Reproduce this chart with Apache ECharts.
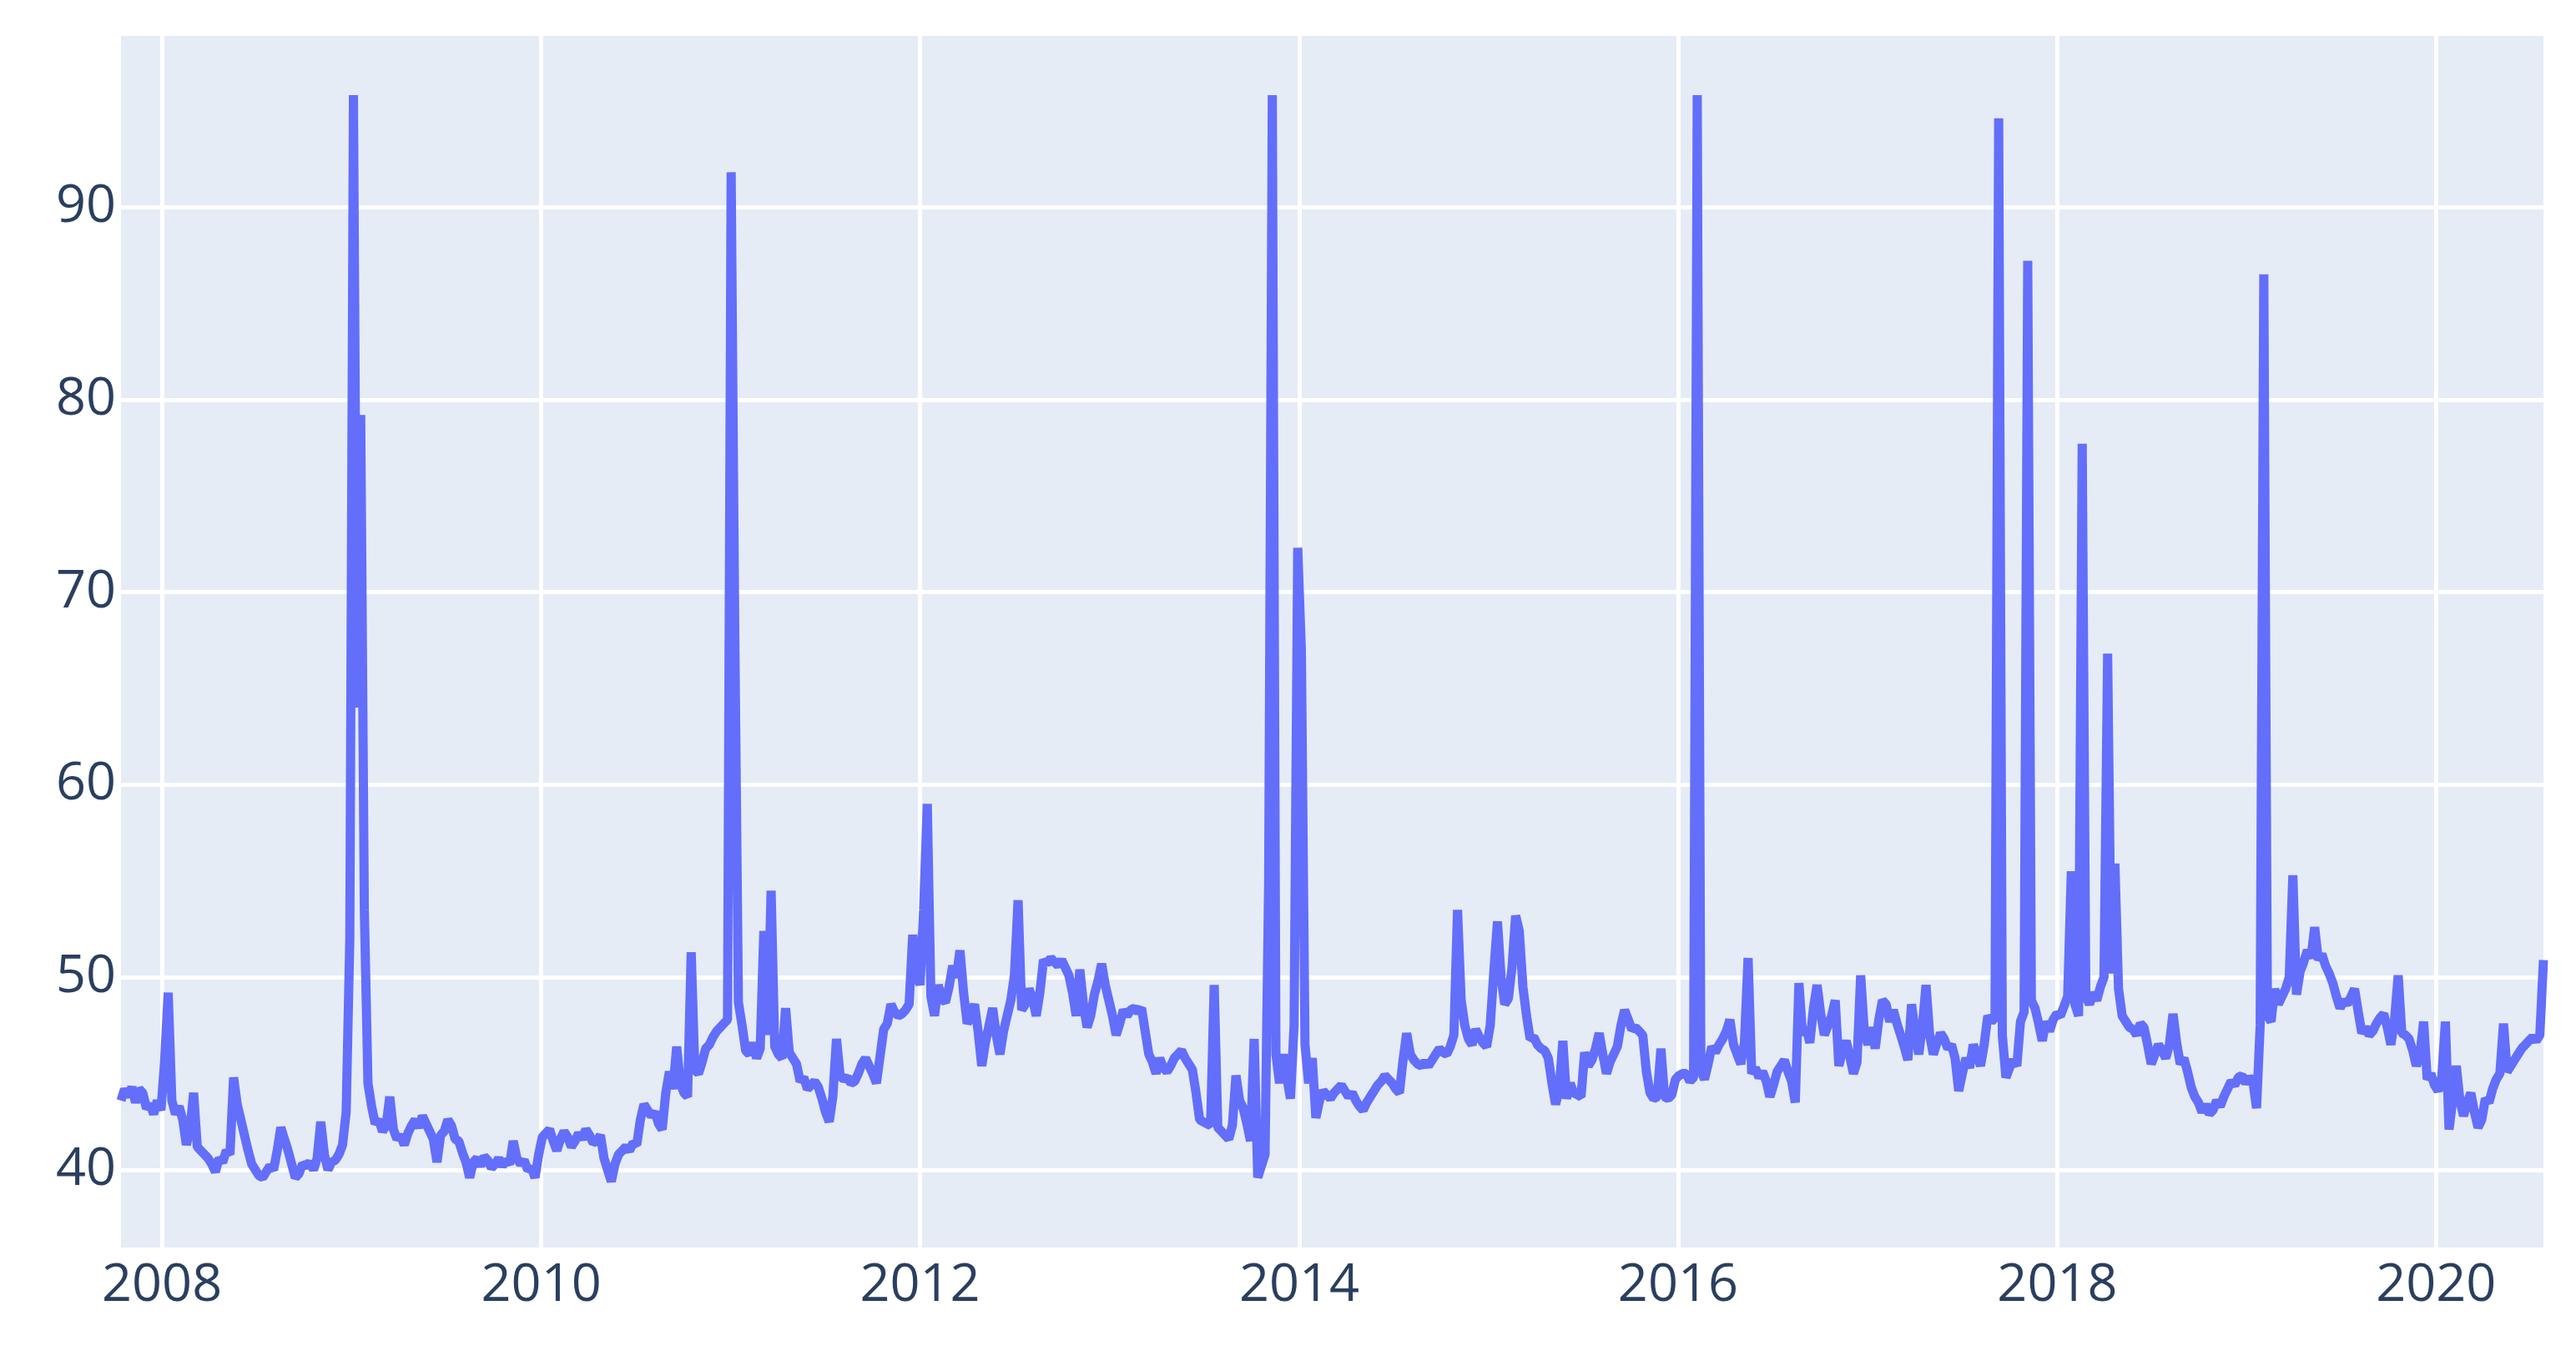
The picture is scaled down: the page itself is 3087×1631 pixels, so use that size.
<!DOCTYPE html>
<html>
<head>
<meta charset="utf-8">
<script src="https://cdn.jsdelivr.net/npm/echarts@6/dist/echarts.min.js"></script>
<style>
  html, body { margin: 0; padding: 0; background: #fff; }
  #chart { width: 3087px; height: 1631px; }
</style>
</head>
<body>
<div id="chart"></div>
<script>
// weekly values, first week is 2007-10-14
const startDate = Date.UTC(2007, 9, 14);

// Oct 2007 - Aug 2009
const part1 = [
  43.6, 44.2, 43.8, 44.3, 43.5, 44.2, 44.0, 43.2, 43.4, 42.9,
  43.6, 43.1, 45.6, 49.2, 43.6, 42.9, 43.3, 42.6, 41.3, 42.1,
  44.0, 41.2, 41.0, 40.8, 40.6, 40.3, 39.9, 40.6, 40.4, 41.0,
  40.8, 44.8, 43.4, 42.6, 41.8, 41.0, 40.3, 40.0, 39.7, 39.6,
  39.9, 40.2, 40.0, 41.0, 42.2, 41.6, 41.0, 40.3, 39.6, 39.8,
  40.3, 40.2, 40.4, 40.0, 40.6, 42.5, 40.8, 40.0, 40.4, 40.5,
  40.8, 41.3, 43.0, 52.0, 95.8, 64.0, 79.2, 53.5, 44.5, 43.3,
  42.4, 42.6, 42.0, 42.3, 43.8, 42.1, 41.6, 41.8, 41.3, 41.9,
  42.3, 42.6, 42.2, 42.8, 42.4, 42.0, 41.6, 40.4, 41.8, 42.0,
  42.6, 42.3, 41.6, 41.5, 40.9, 40.4
];
// Aug 2009 - Jun 2011
const part2 = [
  39.6, 40.4, 40.6, 40.2, 40.7, 40.5, 40.1, 40.3, 40.6, 40.2,
  40.5, 40.3, 41.5, 40.6, 40.3, 40.5, 40.0, 40.1, 39.6, 40.8,
  41.7, 41.9, 42.1, 41.5, 41.0, 41.6, 42.0, 41.7, 41.2, 41.5,
  41.9, 41.6, 42.1, 41.8, 41.4, 41.5, 41.8, 40.6, 40.0, 39.4,
  40.3, 40.8, 41.0, 41.2, 41.0, 41.4, 41.3, 42.6, 43.4, 43.1,
  42.8, 43.0, 42.4, 42.1, 44.0, 45.1, 44.2, 46.4, 44.5, 44.0,
  43.8, 51.3, 45.2, 45.0, 45.6, 46.3, 46.5, 46.9, 47.2, 47.4,
  47.6, 47.8, 91.8, 67.8, 48.7, 47.5, 46.2, 46.0, 46.6, 45.8,
  46.3, 52.4, 47.0, 54.5, 46.4, 46.0, 45.8, 48.4, 46.1, 45.8,
  45.5, 44.6, 44.8, 44.2, 44.4
];
// Jun 2011 - Mar 2013
const part3 = [
  44.6, 44.3, 43.7, 43.0, 42.5, 43.8, 46.8, 44.9, 44.7, 44.8,
  44.5, 44.6, 45.0, 45.5, 45.8, 45.4, 45.0, 44.5, 45.9, 47.3,
  47.6, 48.6, 48.2, 48.0, 48.1, 48.3, 48.6, 52.2, 50.3, 49.6,
  53.5, 59.0, 49.0, 48.0, 49.6, 48.9, 48.7, 49.5, 50.6, 50.0,
  51.4, 49.2, 47.6, 48.0, 48.6, 47.2, 45.4, 46.6, 47.5, 48.4,
  47.0, 46.0, 47.2, 48.0, 48.8, 50.1, 54.0, 48.3, 48.6, 49.4,
  48.9, 48.0, 49.2, 50.9, 50.7, 51.0, 50.8, 50.6, 50.9, 50.5,
  50.1, 49.2, 48.0, 50.4, 48.6, 47.4, 48.0, 49.1, 49.8, 50.7,
  49.6, 48.8, 48.0, 47.0, 47.6, 48.3, 48.0, 48.3, 48.4, 48.2,
  48.4, 47.2, 46.0, 45.6, 45.0
];
// Mar 2013 - Jan 2015
const part4 = [
  45.8, 45.3, 45.1, 45.4, 45.8, 46.0, 46.2, 45.8, 45.5, 45.2,
  44.0, 42.6, 42.5, 42.4, 42.3, 49.6, 42.2, 42.0, 41.8, 41.6,
  42.3, 44.9, 43.6, 43.2, 42.4, 41.5, 46.8, 39.6, 40.2, 40.8,
  55.0, 95.8, 46.0, 44.5, 46.0, 44.8, 43.7, 47.5, 72.3, 67.0,
  46.5, 44.5, 45.8, 42.7, 43.6, 44.1, 43.9, 43.7, 44.0, 44.2,
  44.4, 44.1, 43.8, 44.0, 43.6, 43.3, 43.1, 43.5, 43.8, 44.1,
  44.4, 44.6, 44.9, 44.7, 44.5, 44.2, 44.0, 45.7, 47.1, 46.0,
  45.7, 45.5, 45.4, 45.6, 45.4, 45.7, 46.0, 46.3, 46.1, 46.0,
  46.4, 47.0, 53.5, 48.8, 47.5, 46.8, 46.5, 47.3, 46.9, 46.6,
  46.4, 47.5, 50.3, 52.9, 50.0
];
// Jan 2015 - Nov 2016
const part5 = [
  48.6, 48.9, 50.5, 53.2, 52.4, 49.5, 48.0, 46.8, 46.9, 46.5,
  46.3, 46.2, 45.8, 44.5, 43.4, 44.2, 46.7, 43.7, 44.5, 44.0,
  43.9, 43.8, 46.1, 45.4, 45.7, 46.3, 47.1, 46.0, 45.0, 45.6,
  46.0, 46.4, 47.5, 48.3, 47.8, 47.3, 47.4, 47.2, 47.0, 45.1,
  44.0, 43.7, 43.8, 46.3, 43.8, 43.7, 43.9, 44.7, 44.9, 45.0,
  45.0, 44.6, 44.8, 95.8, 45.2, 44.7, 45.5, 46.4, 46.1, 46.5,
  46.8, 47.2, 47.8, 46.5, 46.0, 45.5, 46.6, 51.0, 45.0, 45.3,
  44.8, 45.1, 44.6, 43.8, 44.4, 45.1, 45.4, 45.7, 45.1, 44.6,
  43.5, 49.7, 47.0, 47.4, 46.6, 48.4, 49.6, 48.1, 47.0, 47.5,
  48.0, 48.8, 45.4, 46.2, 46.7, 45.9
];
// Nov 2016 - Aug 2018
const part6 = [
  45.0, 45.6, 50.1, 47.2, 46.5, 47.4, 46.3, 47.8, 48.8, 48.6,
  47.7, 48.3, 47.6, 47.0, 46.4, 45.7, 48.6, 47.2, 46.0, 47.5,
  49.6, 47.0, 46.0, 46.6, 47.1, 46.8, 46.3, 46.5, 45.8, 44.1,
  45.0, 45.8, 45.3, 46.5, 46.0, 45.4, 46.5, 48.0, 47.7, 47.9,
  94.6, 47.0, 44.8, 45.3, 45.7, 45.4, 47.7, 48.2, 87.2, 48.8,
  48.4, 47.6, 46.7, 47.7, 47.2, 47.8, 48.1, 48.0, 48.5, 49.0,
  55.5, 48.6, 48.0, 77.7, 49.0, 48.6, 49.2, 48.8, 49.5, 50.0,
  66.8, 50.2, 55.9, 49.4, 48.0, 47.7, 47.4, 47.3, 47.0, 47.6,
  47.4, 46.5, 45.5, 46.0, 46.5, 46.2, 45.8, 46.5, 48.1, 46.6,
  45.5, 45.8, 45.1, 44.3, 43.8
];
// Aug 2018 - Jul 2020
const part7 = [
  43.5, 43.0, 43.4, 42.9, 43.1, 43.6, 43.3, 43.8, 44.2, 44.6,
  44.4, 44.8, 44.9, 44.5, 44.8, 44.6, 43.2, 47.5, 86.5, 48.0,
  47.7, 49.4, 48.6, 49.0, 49.4, 50.0, 55.3, 49.1, 50.3, 50.8,
  51.4, 51.0, 52.6, 50.9, 51.2, 50.6, 50.2, 49.7, 49.0, 48.4,
  48.8, 48.6, 49.0, 49.4, 48.2, 47.1, 47.4, 47.0, 47.2, 47.6,
  47.9, 48.1, 47.4, 46.5, 47.8, 50.1, 47.1, 47.0, 46.8, 46.2,
  45.4, 46.0, 47.7, 44.7, 45.0, 44.4, 44.1, 44.8, 47.7, 42.1,
  43.6, 45.4, 43.6, 42.8, 43.5, 44.0, 43.0, 42.2, 42.6, 43.7,
  43.5, 44.2, 44.7, 45.0, 47.6, 45.1, 45.4, 45.7, 46.0, 46.3,
  46.5, 46.7, 46.9, 46.7, 47.0, 50.9
];

const yearTicks = [2008, 2010, 2012, 2014, 2016, 2018, 2020];
const valueTicks = [40, 50, 60, 70, 80, 90];

const WEEK = 7 * 24 * 3600 * 1000;
const values = [].concat(part1, part2, part3, part4, part5, part6, part7);
const points = values.map((v, i) => [startDate + i * WEEK, v]);
const yearStamps = yearTicks.map(y => Date.UTC(y, 0, 1));

const labelFont = {
  fontFamily: 'Open Sans',
  fontSize: 63,
  color: '#2a3f5f'
};
const gridLine = { show: true, lineStyle: { color: '#ffffff', width: 5 } };

const chart = echarts.init(document.getElementById('chart'));
chart.setOption({
  animation: false,
  backgroundColor: '#ffffff',
  grid: {
    left: 145, right: 39, top: 43, bottom: 136,
    containLabel: false,
    outerBoundsMode: 'none',
    show: true,
    backgroundColor: '#e5ecf6',
    borderWidth: 0
  },
  xAxis: {
    type: 'value',
    min: startDate,
    max: startDate + (values.length - 1) * WEEK,
    axisLine: { show: false },
    axisTick: { show: false, customValues: yearStamps },
    axisLabel: Object.assign({
      customValues: yearStamps,
      margin: 15,
      formatter: v => String(new Date(v).getUTCFullYear())
    }, labelFont),
    splitLine: gridLine
  },
  yAxis: {
    type: 'value',
    min: 35.97,
    max: 98.88,
    axisLine: { show: false },
    axisTick: { show: false, customValues: valueTicks },
    axisLabel: Object.assign({ customValues: valueTicks, margin: 6 }, labelFont),
    splitLine: gridLine
  },
  series: [{
    type: 'line',
    data: points,
    showSymbol: false,
    symbol: 'none',
    silent: true,
    lineStyle: { color: '#636efa', width: 11 }
  }]
});
</script>
</body>
</html>
